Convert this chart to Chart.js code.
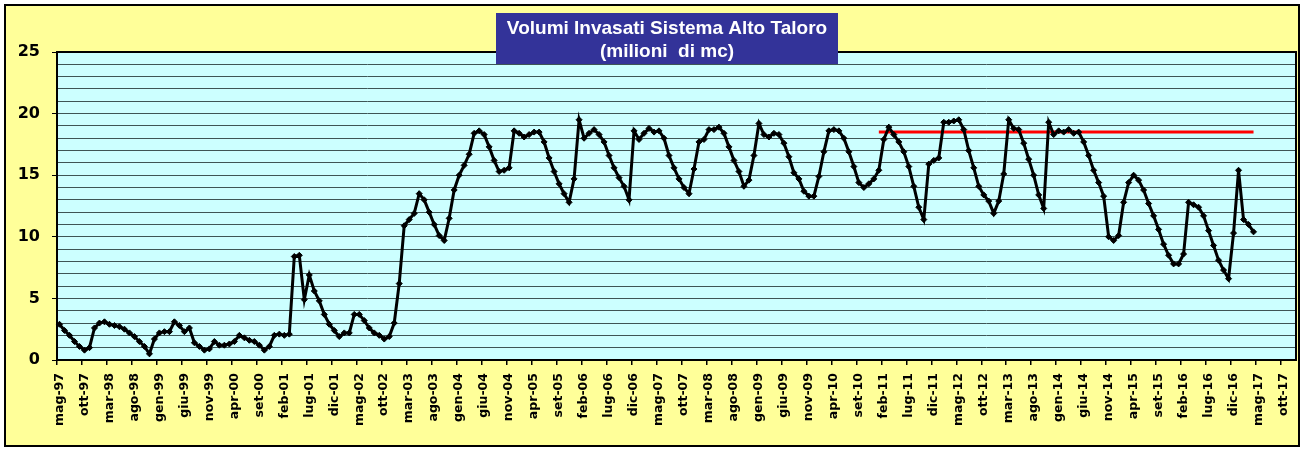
<!DOCTYPE html>
<html><head><meta charset="utf-8">
<script src="https://cdn.jsdelivr.net/npm/chart.js@4/dist/chart.umd.min.js"></script>
<style>html,body{margin:0;padding:0;background:#fff;overflow:hidden}</style>
</head><body><canvas id="c" width="1301" height="450"></canvas>
<script>
const monthNames = ['gen','feb','mar','apr','mag','giu','lug','ago','set','ott','nov','dic'];
const firstMonthIndex = 4, firstYear = 1997, categoryCount = 248;
const categories = [];
for (let k = 0; k < categoryCount; k++) {
  const m = (firstMonthIndex + k) % 12;
  const y = firstYear + Math.floor((firstMonthIndex + k) / 12);
  categories.push(monthNames[m] + '-' + String(y % 100).padStart(2, '0'));
}
const tickLabels = ['mag-97','ott-97','mar-98','ago-98','gen-99','giu-99','nov-99','apr-00','set-00','feb-01',
 'lug-01','dic-01','mag-02','ott-02','mar-03','ago-03','gen-04','giu-04','nov-04','apr-05',
 'set-05','feb-06','lug-06','dic-06','mag-07','ott-07','mar-08','ago-08','gen-09','giu-09',
 'nov-09','apr-10','set-10','feb-11','lug-11','dic-11','mag-12','ott-12','mar-13','ago-13',
 'gen-14','giu-14','nov-14','apr-15','set-15','feb-16','lug-16','dic-16','mag-17','ott-17'];
const yTickValues = [0, 5, 10, 15, 20, 25];
const volumes = [
 2.9,2.4,2.0,1.5,1.1,0.8,1.0,2.6,3.0,3.1,2.9,2.8,2.7,2.5,2.2,1.9,1.5,1.1,0.5,1.7,
 2.2,2.3,2.3,3.1,2.8,2.3,2.6,1.4,1.1,0.8,0.9,1.5,1.2,1.2,1.3,1.5,2.0,1.8,1.6,1.5,
 1.2,0.8,1.1,2.0,2.1,2.0,2.1,8.4,8.5,4.9,6.9,5.6,4.8,3.7,2.9,2.4,1.9,2.2,2.2,3.7,
 3.7,3.2,2.6,2.2,2.0,1.7,1.9,3.0,6.2,10.9,11.4,11.9,13.5,13.0,12.0,11.0,10.1,9.7,11.5,13.8,
 15.0,15.8,16.7,18.4,18.6,18.3,17.3,16.2,15.3,15.4,15.6,18.6,18.4,18.1,18.3,18.5,18.5,17.7,16.4,15.3,
 14.3,13.5,12.8,14.7,19.5,18.0,18.4,18.7,18.3,17.7,16.6,15.6,14.8,14.1,13.0,18.6,17.9,18.4,18.8,18.5,
 18.6,18.0,16.6,15.6,14.7,14.0,13.5,15.5,17.7,17.9,18.7,18.7,18.9,18.4,17.3,16.2,15.3,14.1,14.6,16.6,
 19.2,18.3,18.1,18.4,18.3,17.6,16.5,15.2,14.7,13.7,13.3,13.3,14.9,16.9,18.6,18.7,18.6,18.0,16.9,15.7,
 14.4,14.0,14.3,14.7,15.4,17.9,18.9,18.3,17.7,16.9,15.7,14.1,12.4,11.4,15.9,16.2,16.4,19.3,19.3,19.4,
 19.5,18.7,17.0,15.6,14.1,13.4,12.9,11.9,12.9,15.1,19.5,18.8,18.7,17.6,16.3,15.0,13.4,12.3,19.3,18.3,
 18.6,18.5,18.7,18.4,18.5,17.7,16.6,15.4,14.4,13.3,10.0,9.7,10.1,12.8,14.4,15.0,14.6,13.8,12.7,11.7,
 10.6,9.4,8.5,7.8,7.8,8.6,12.8,12.6,12.4,11.7,10.5,9.3,8.1,7.3,6.6,10.3,15.4,11.4,11.0,10.4
];
const targetLevel = 18.5;
const targetFrom = 'gen-11', targetTo = 'apr-17';
const titleLines = ['Volumi Invasati Sistema Alto Taloro', '(milioni  di mc)'];

const iFrom = categories.indexOf(targetFrom), iTo = categories.indexOf(targetTo);
const targetSeries = categories.map((c, i) => (i >= iFrom && i <= iTo) ? targetLevel : null);

const decor = {
  id: 'decor',
  beforeDraw(chart) {
    const ctx = chart.ctx, a = chart.chartArea;
    ctx.save();
    ctx.fillStyle = '#ffffff'; ctx.fillRect(0, 0, chart.width, chart.height);
    ctx.fillStyle = '#FFFF99'; ctx.fillRect(5, 5, chart.width - 6, chart.height - 8);
    ctx.fillStyle = '#CCFFFF'; ctx.fillRect(a.left, a.top, a.right - a.left, a.bottom - a.top);
    ctx.restore();
  },
  afterDraw(chart) {
    const ctx = chart.ctx, a = chart.chartArea;
    ctx.save();
    ctx.strokeStyle = '#000'; ctx.lineWidth = 2;
    ctx.strokeRect(a.left, a.top, a.right - a.left, a.bottom - a.top);
    ctx.strokeRect(5, 5, chart.width - 7, chart.height - 9);
    ctx.fillStyle = '#333399'; ctx.fillRect(496, 13, 342, 51);
    ctx.fillStyle = '#ffffff';
    ctx.font = 'bold 19px "Liberation Sans", Arial, sans-serif';
    ctx.textAlign = 'center'; ctx.textBaseline = 'alphabetic';
    ctx.fillText(titleLines[0], 667, 34);
    ctx.fillText(titleLines[1], 667, 57);
    ctx.restore();
  }
};

new Chart(document.getElementById('c'), {
  type: 'line',
  data: {
    labels: categories,
    datasets: [
      { data: volumes, borderColor: '#000', borderWidth: 3, pointStyle: 'rectRot', pointRadius: 3,
        pointBackgroundColor: '#000', pointBorderColor: '#000', pointBorderWidth: 1, tension: 0, order: 1 },
      { data: targetSeries, borderColor: '#FF0000', borderWidth: 3, pointRadius: 0, tension: 0, order: 2 }
    ]
  },
  options: {
    responsive: false, animation: false, devicePixelRatio: 1,
    layout: { padding: { left: 0, top: 52, right: 3, bottom: 0 } },
    plugins: { legend: { display: false }, tooltip: { enabled: false }, title: { display: false } },
    scales: {
      x: {
        type: 'category', offset: true,
        afterFit(s) { s.height = 90; s.paddingLeft = 0; s.paddingRight = 0; },
        ticks: { autoSkip: false, maxRotation: 90, minRotation: 90, padding: 8, color: '#000',
          font: { family: 'DejaVu Sans', weight: 'bold', size: 12.5 },
          callback: (v, i) => (i % 5 === 0 ? tickLabels[i / 5] : '') },
        grid: { drawOnChartArea: false, offset: true, tickLength: 5, lineWidth: 1.5,
          tickColor: (c) => (c.index % 5 === 0 ? '#000' : 'rgba(0,0,0,0)') },
        border: { color: '#000', width: 2 }
      },
      y: {
        min: 0, max: 25,
        afterFit(s) { s.width = 57; },
        ticks: { stepSize: 1, autoSkip: false, padding: 12, color: '#000',
          font: { family: 'DejaVu Sans', weight: 'bold', size: 16 },
          callback: (v) => (yTickValues.includes(v) ? String(v) : '') },
        grid: { color: '#3d5555', lineWidth: 1, tickLength: 5,
          tickColor: (c) => (c.tick && yTickValues.includes(c.tick.value) ? '#000' : 'rgba(0,0,0,0)') },
        border: { color: '#000', width: 2 }
      }
    }
  },
  plugins: [decor]
});
</script></body></html>
